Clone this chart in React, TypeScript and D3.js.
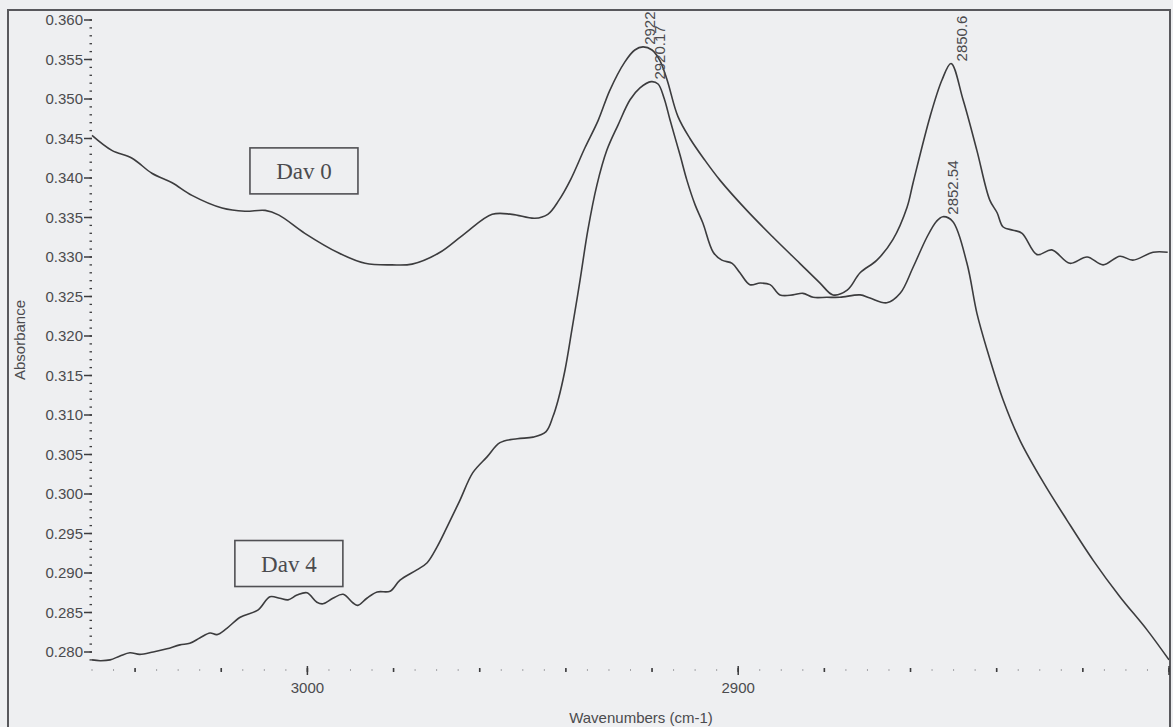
import * as d3 from "d3";
import { useEffect, useRef } from "react";

// [wavenumber cm-1, absorbance]
const day0Spectrum: [number, number][] = [
  [3050.0, 0.3454], [3045.4, 0.3435], [3040.7, 0.3425], [3036.1, 0.3406],
  [3031.4, 0.3394], [3026.8, 0.3378], [3019.8, 0.3362], [3014.5, 0.3358],
  [3009.8, 0.3359], [3006.6, 0.3353], [3000.6, 0.333], [2992.7, 0.3305],
  [2986.6, 0.3292], [2980.4, 0.329], [2975.7, 0.3291], [2969.5, 0.3305],
  [2963.4, 0.333], [2957.1, 0.3354], [2952.5, 0.3354], [2947.2, 0.3349],
  [2944.2, 0.3354], [2941.6, 0.3372], [2938.9, 0.3398], [2935.6, 0.3438],
  [2932.5, 0.3473], [2929.8, 0.3511], [2926.3, 0.3547], [2924.0, 0.3562],
  [2922.1, 0.3566], [2920.0, 0.3562], [2918.2, 0.3549], [2916.5, 0.3524],
  [2914.0, 0.3478], [2911.2, 0.345], [2907.8, 0.3423], [2904.2, 0.3397],
  [2898.0, 0.3359], [2891.9, 0.3325], [2885.7, 0.3292], [2881.0, 0.3267],
  [2878.0, 0.3252], [2874.7, 0.3258], [2871.7, 0.328], [2867.8, 0.3296],
  [2864.1, 0.3322], [2860.8, 0.3363], [2859.4, 0.3394], [2855.5, 0.3477],
  [2852.7, 0.3524], [2850.6, 0.3545], [2847.8, 0.3499], [2844.6, 0.3435],
  [2841.6, 0.3372], [2839.9, 0.3356], [2838.5, 0.3338], [2836.2, 0.3334],
  [2834.1, 0.333], [2830.6, 0.3303], [2827.2, 0.3309], [2823.0, 0.3292],
  [2819.0, 0.33], [2815.3, 0.329], [2811.4, 0.3301], [2808.4, 0.3296],
  [2803.7, 0.3306], [2800.3, 0.3306],
];

const day4Spectrum: [number, number][] = [
  [3050.0, 0.279], [3048.1, 0.2789], [3045.8, 0.279], [3043.5, 0.2795],
  [3041.2, 0.2799], [3038.9, 0.2797], [3035.8, 0.28], [3032.6, 0.2804],
  [3029.6, 0.2809], [3027.3, 0.2811], [3024.9, 0.2818], [3022.6, 0.2824],
  [3021.0, 0.2822], [3018.7, 0.283], [3015.6, 0.2844], [3011.5, 0.2853],
  [3008.7, 0.287], [3006.4, 0.2868], [3004.5, 0.2866], [3002.4, 0.2872],
  [3000.1, 0.2875], [2997.8, 0.2863], [2996.4, 0.2861], [2994.1, 0.2868],
  [2991.7, 0.2873], [2989.4, 0.2862], [2988.3, 0.2859], [2986.2, 0.2868],
  [2983.8, 0.2876], [2980.8, 0.2877], [2978.5, 0.2891], [2974.6, 0.2904],
  [2972.2, 0.2913], [2969.9, 0.2933], [2967.6, 0.2958], [2964.6, 0.2992],
  [2961.6, 0.3027], [2958.3, 0.3047], [2955.3, 0.3065], [2951.3, 0.307],
  [2947.6, 0.3072], [2944.6, 0.3079], [2943.0, 0.3098], [2941.8, 0.3119],
  [2940.2, 0.3157], [2938.6, 0.3208], [2936.7, 0.3271], [2934.9, 0.3334],
  [2932.8, 0.3391], [2930.5, 0.3435], [2927.9, 0.3467], [2925.1, 0.3499],
  [2922.8, 0.3514], [2920.2, 0.3522], [2918.6, 0.3519], [2917.2, 0.3501],
  [2915.8, 0.3473], [2913.5, 0.3429], [2911.9, 0.3397], [2910.0, 0.3366],
  [2908.2, 0.3343], [2905.8, 0.3306], [2903.8, 0.3296], [2901.4, 0.3292],
  [2899.6, 0.328], [2897.3, 0.3265], [2894.9, 0.3267], [2892.6, 0.3265],
  [2890.3, 0.3252], [2887.3, 0.3252], [2885.0, 0.3254], [2882.6, 0.3249],
  [2879.4, 0.3249], [2876.4, 0.3249], [2871.7, 0.3252], [2869.4, 0.3248],
  [2865.5, 0.3242], [2862.4, 0.3254], [2859.4, 0.3287], [2856.2, 0.3325],
  [2854.0, 0.3345], [2852.5, 0.3351], [2850.2, 0.3345], [2846.9, 0.3292],
  [2844.6, 0.3229], [2842.2, 0.3182], [2838.5, 0.3119], [2834.6, 0.3068],
  [2829.2, 0.3015], [2823.7, 0.2967], [2817.6, 0.2916], [2811.4, 0.287],
  [2805.1, 0.2828], [2800.0, 0.279],
];

// peak annotations (dx = small horizontal nudge in px)
const peakLabels = [
  { text: "2922", wn: 2922.1, abs: 0.3566, dx: 12 },
  { text: "2920.17", wn: 2920.2, abs: 0.3522, dx: 14 },
  { text: "2850.6", wn: 2850.6, abs: 0.3545, dx: 16 },
  { text: "2852.54", wn: 2852.5, abs: 0.3351, dx: 15 },
];

const seriesLabels = [
  { text: "Dav 0", wn: 3000.8, abs: 0.3409 },
  { text: "Dav 4", wn: 3004.3, abs: 0.2912 },
];

const yMajorTicks = d3.range(0.28, 0.3601, 0.005);
const yMinorTicks = d3.range(0.279, 0.3605, 0.001);
const xLabelTicks = [3000, 2900];
const xMidTicks = d3.range(3040, 2799, -20);
const xMinorTicks = d3.range(3050, 2799, -5);

export default function App() {
  const svgRef = useRef<SVGSVGElement>(null);
  const width = 1173;
  const height = 727;

  useEffect(() => {
    if (!svgRef.current) return;
    const svg = d3.select(svgRef.current);
    svg.selectAll("*").remove();

    const ink = "#3c3c3e";
    const textInk = "#4b4b4e";

    const x = d3.scaleLinear().domain([3050, 2800]).range([92, 1169]);
    const y = d3.scaleLinear().domain([0.36, 0.28]).range([20, 652]);

    svg.append("rect").attr("width", width).attr("height", height).attr("fill", "#eeeff1");

    svg
      .append("defs")
      .append("clipPath")
      .attr("id", "frame-clip")
      .append("rect")
      .attr("x", 9)
      .attr("y", 11)
      .attr("width", 1160)
      .attr("height", 720);

    // outer frame
    svg
      .append("rect")
      .attr("x", 8)
      .attr("y", 10)
      .attr("width", 1162)
      .attr("height", 740)
      .attr("fill", "none")
      .attr("stroke", "#58585c")
      .attr("stroke-width", 2);

    // y axis ticks
    const yAxis = svg.append("g");
    yAxis
      .selectAll("line.minor")
      .data(yMinorTicks)
      .enter()
      .append("line")
      .attr("class", "minor")
      .attr("x1", 89.5)
      .attr("x2", 92)
      .attr("y1", (d) => y(d))
      .attr("y2", (d) => y(d))
      .attr("stroke", ink)
      .attr("stroke-width", 1.3);
    yAxis
      .selectAll("line.major")
      .data(yMajorTicks)
      .enter()
      .append("line")
      .attr("class", "major")
      .attr("x1", 84)
      .attr("x2", 92)
      .attr("y1", (d) => y(d))
      .attr("y2", (d) => y(d))
      .attr("stroke", ink)
      .attr("stroke-width", 1.5);
    yAxis
      .selectAll("text")
      .data(yMajorTicks)
      .enter()
      .append("text")
      .attr("x", 83)
      .attr("y", (d) => y(d))
      .attr("dy", "0.36em")
      .attr("text-anchor", "end")
      .style("font-family", "'Liberation Sans', Arial, sans-serif")
      .style("font-size", "15px")
      .style("fill", textInk)
      .text((d) => d3.format(".3f")(d));

    // x axis ticks
    const xAxis = svg.append("g");
    const axisY = 670;
    xAxis
      .selectAll("line.minor")
      .data(xMinorTicks)
      .enter()
      .append("line")
      .attr("class", "minor")
      .attr("x1", (d) => x(d))
      .attr("x2", (d) => x(d))
      .attr("y1", axisY - 1)
      .attr("y2", axisY + 1)
      .attr("stroke", "#a4a4a8")
      .attr("stroke-width", 1);
    xAxis
      .selectAll("line.mid")
      .data(xMidTicks)
      .enter()
      .append("line")
      .attr("class", "mid")
      .attr("x1", (d) => x(d))
      .attr("x2", (d) => x(d))
      .attr("y1", axisY - 2)
      .attr("y2", axisY + 2)
      .attr("stroke", ink)
      .attr("stroke-width", 1.6);
    xAxis
      .selectAll("line.major")
      .data([...xLabelTicks, 2800])
      .enter()
      .append("line")
      .attr("class", "major")
      .attr("x1", (d) => x(d))
      .attr("x2", (d) => x(d))
      .attr("y1", axisY - 4)
      .attr("y2", axisY + 5)
      .attr("stroke", ink)
      .attr("stroke-width", 1.5);
    xAxis
      .selectAll("text")
      .data(xLabelTicks)
      .enter()
      .append("text")
      .attr("x", (d) => x(d))
      .attr("y", axisY + 23)
      .attr("text-anchor", "middle")
      .style("font-family", "'Liberation Sans', Arial, sans-serif")
      .style("font-size", "15px")
      .style("fill", textInk)
      .text((d) => d);

    // axis titles
    svg
      .append("text")
      .attr("x", 641)
      .attr("y", 723)
      .attr("text-anchor", "middle")
      .style("font-family", "'Liberation Sans', Arial, sans-serif")
      .style("font-size", "15px")
      .style("fill", textInk)
      .text("Wavenumbers (cm-1)");
    svg
      .append("text")
      .attr("transform", "translate(25,340) rotate(-90)")
      .attr("text-anchor", "middle")
      .style("font-family", "'Liberation Sans', Arial, sans-serif")
      .style("font-size", "15px")
      .style("fill", textInk)
      .text("Absorbance");

    const plot = svg.append("g").attr("clip-path", "url(#frame-clip)");

    const line = d3
      .line<[number, number]>()
      .x((d) => x(d[0]))
      .y((d) => y(d[1]))
      .curve(d3.curveCatmullRom.alpha(0.5));

    [day0Spectrum, day4Spectrum].forEach((s) => {
      plot
        .append("path")
        .datum(s)
        .attr("d", line)
        .attr("fill", "none")
        .attr("stroke", ink)
        .attr("stroke-width", 1.6)
        .attr("stroke-linejoin", "round");
    });

    // peak labels
    svg
      .selectAll("text.peak")
      .data(peakLabels)
      .enter()
      .append("text")
      .attr("class", "peak")
      .attr("transform", (d) => `translate(${x(d.wn) + d.dx},${y(d.abs) - 2}) rotate(-90)`)
      .style("font-family", "'Liberation Sans', Arial, sans-serif")
      .style("font-size", "15px")
      .style("fill", textInk)
      .text((d) => d.text);

    // series boxes
    const boxes = svg
      .selectAll("g.series")
      .data(seriesLabels)
      .enter()
      .append("g")
      .attr("class", "series")
      .attr("transform", (d) => `translate(${x(d.wn)},${y(d.abs)})`);
    boxes
      .append("rect")
      .attr("x", -54)
      .attr("y", -23)
      .attr("width", 108)
      .attr("height", 46)
      .attr("fill", "none")
      .attr("stroke", "#505054")
      .attr("stroke-width", 1.6);
    boxes
      .append("text")
      .attr("y", 8)
      .attr("text-anchor", "middle")
      .style("font-family", "'Liberation Serif', 'Times New Roman', serif")
      .style("font-size", "23px")
      .style("fill", textInk)
      .text((d) => d.text);
  }, []);

  return (
    <svg
      ref={svgRef}
      width={width}
      height={height}
      style={{ position: "absolute", left: 0, top: 0, display: "block" }}
    />
  );
}
